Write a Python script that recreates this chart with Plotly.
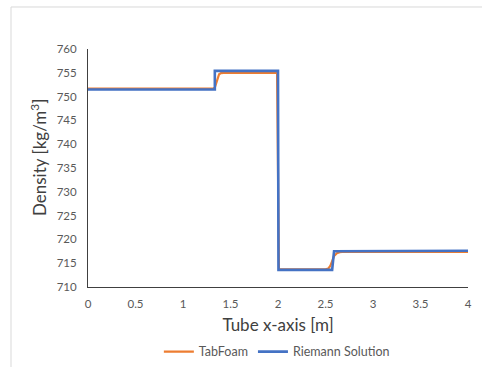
import plotly.graph_objects as go

# Shock-tube density profiles along the tube
riemann_x = [0, 1.335, 1.335, 2.0, 2.005, 2.57, 2.59, 4]
riemann_rho = [751.5, 751.5, 755.4, 755.4, 713.6, 713.6, 717.5, 717.6]

tabfoam_x = [0, 1.32, 1.335, 1.35, 1.365, 1.38, 1.40, 1.43, 1.99, 2.0, 2.01,
             2.50, 2.53, 2.55, 2.57, 2.59, 2.62, 2.65, 2.70, 4]
tabfoam_rho = [751.7, 751.7, 751.9, 753.0, 754.1, 754.7, 754.95, 755.0, 755.0, 740.0, 713.7,
               713.7, 713.9, 714.4, 715.5, 716.5, 717.1, 717.3, 717.4, 717.4]

x_ticks = [0, 0.5, 1, 1.5, 2, 2.5, 3, 3.5, 4]
y_ticks = [710, 715, 720, 725, 730, 735, 740, 745, 750, 755, 760]

FONT = "Lato, 'Open Sans', sans-serif"
GRAY = "#595959"

fig = go.Figure()
fig.add_trace(go.Scatter(x=tabfoam_x, y=tabfoam_rho, mode="lines", name="TabFoam",
                         line=dict(color="#ED7D31", width=2.2)))
fig.add_trace(go.Scatter(x=riemann_x, y=riemann_rho, mode="lines", name="Riemann Solution",
                         line=dict(color="#4472C4", width=2.6)))

# light frame on the top and left edges
fig.add_shape(type="line", xref="paper", yref="paper", x0=-0.2026, x1=1.04,
              y0=1.1765, y1=1.1765, line=dict(color="#d9d9d9", width=1))
fig.add_shape(type="line", xref="paper", yref="paper", x0=-0.2026, x1=-0.2026,
              y0=1.1765, y1=-0.34, line=dict(color="#d9d9d9", width=1))

# vertical axis title
fig.add_annotation(text="Density [kg/m<sup>3</sup>]", textangle=-90, showarrow=False,
                   xref="paper", yref="paper", x=-0.1316, y=0.546,
                   xanchor="center", yanchor="middle",
                   font=dict(size=17, color="#404040", family=FONT))

fig.update_layout(
    width=482, height=367,
    margin=dict(l=88, r=14, t=49, b=80, autoexpand=False),
    paper_bgcolor="white", plot_bgcolor="white",
    font=dict(family=FONT, color=GRAY),
    showlegend=True,
    legend=dict(orientation="h", x=0.497, xanchor="center", y=-0.273, yanchor="middle",
                font=dict(size=12.5, color=GRAY), itemwidth=30, traceorder="normal"),
    xaxis=dict(range=[0, 4], tickvals=x_ticks, ticktext=[f"{v:g}" for v in x_ticks],
               showgrid=False, zeroline=False, showline=True, linecolor="#404040", linewidth=1,
               ticks="outside", ticklen=6, tickcolor="rgba(0,0,0,0)", automargin=False,
               tickfont=dict(size=11.5, color=GRAY),
               title=dict(text="Tube x-axis [m]", font=dict(size=17, color="#404040"), standoff=10)),
    yaxis=dict(range=[710, 760], tickvals=y_ticks, showgrid=False, zeroline=False,
               showline=True, linecolor="#404040", linewidth=1,
               ticks="outside", ticklen=8, tickcolor="rgba(0,0,0,0)", automargin=False,
               tickfont=dict(size=11.5, color=GRAY)),
)

fig.write_html("out.html")
